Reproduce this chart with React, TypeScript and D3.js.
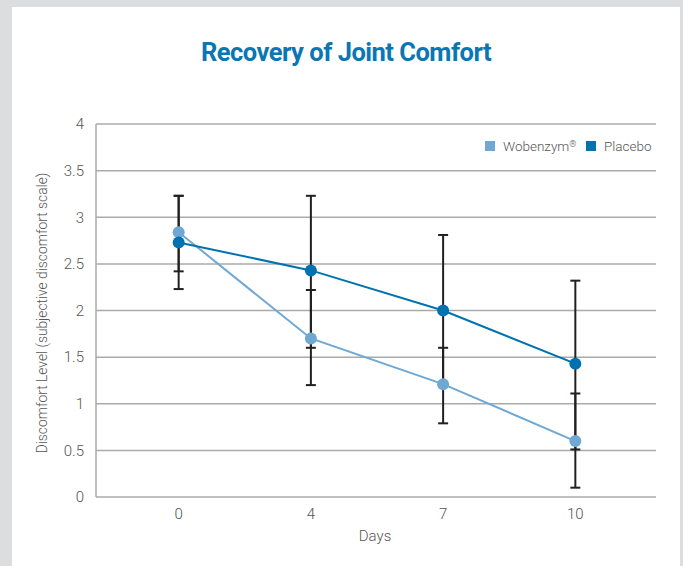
import React from "react";
import * as d3 from "d3";

const days = ["0", "4", "7", "10"];
const yTicks = [0, 0.5, 1, 1.5, 2, 2.5, 3, 3.5, 4];

const wobenzym = [2.84, 1.7, 1.21, 0.6];
const wobLow = [2.42, 1.2, 0.79, 0.1];
const wobHigh = [3.23, 2.22, 1.6, 1.11];

const placebo = [2.73, 2.43, 2.0, 1.43];
const plaLow = [2.23, 1.6, 1.2, 0.51];
const plaHigh = [3.23, 3.23, 2.81, 2.32];

const LIGHT = "#6fa8d3";
const DARK = "#0072b0";
const BAR = "#231f20";
const GRID = "#aaaaaa";
const LABEL = "#555555";
const FONT = "Roboto, 'Liberation Sans', sans-serif";

const App = () => {
    const W = 683, H = 566;
    const left = 96, right = 656, top = 124, bottom = 497;

    const x = d3.scalePoint<string>().domain(days).range([left + 2, right]).padding(0.61);
    const y = d3.scaleLinear().domain([0, 4]).range([bottom, top]);

    const line = d3.line<number>()
        .x((_, i) => x(days[i]) as number)
        .y(d => y(d));

    const series = [
        {name: "Wobenzym", color: LIGHT, values: wobenzym, lo: wobLow, hi: wobHigh},
        {name: "Placebo", color: DARK, values: placebo, lo: plaLow, hi: plaHigh},
    ];

    const cap = 5;

    return (
        <svg width={W} height={H} style={{position: "absolute", left: 0, top: 0}}>
            <rect x={0} y={0} width={W} height={H} fill="#dcdddf"/>
            <rect x={12} y={7} width={668} height={H} fill="#ffffff"/>

            <text x={346} y={61} textAnchor="middle" fill="#0a76b4" fontFamily={FONT}
                  fontWeight={700} fontSize={25.5} letterSpacing={-0.5}>Recovery of Joint Comfort</text>

            {/* grid */}
            {yTicks.map(t => (
                <g key={t}>
                    <line x1={left} x2={right} y1={y(t)} y2={y(t)} stroke={GRID} strokeWidth={1.5}/>
                    <text x={84} y={y(t)} dy="0.35em" textAnchor="end" fill={LABEL} fontFamily={FONT}
                          fontWeight={300} fontSize={15}>{t}</text>
                </g>
            ))}
            <line x1={left} x2={left} y1={top} y2={bottom} stroke={GRID} strokeWidth={1.5}/>

            {days.map(d => (
                <text key={d} x={x(d)} y={514} dy="0.35em" textAnchor="middle" fill={LABEL}
                      fontFamily={FONT} fontWeight={300} fontSize={15}>{d}</text>
            ))}
            <text x={375} y={536} dy="0.35em" textAnchor="middle" fill={LABEL} fontFamily={FONT}
                  fontWeight={300} fontSize={15}>Days</text>
            <text transform={`translate(42,${313}) rotate(-90)`} textAnchor="middle" dy="0.35em"
                  fill={LABEL} fontFamily={FONT} fontWeight={300} fontSize={13.8}>
                Discomfort Level (subjective discomfort scale)
            </text>

            {/* error bars */}
            {series.map(s => days.map((d, i) => {
                const cx = x(d) as number;
                return (
                    <g key={s.name + d} stroke={BAR} strokeWidth={2}>
                        <line x1={cx} x2={cx} y1={y(s.lo[i])} y2={y(s.hi[i])}/>
                        <line x1={cx - cap} x2={cx + cap} y1={y(s.lo[i])} y2={y(s.lo[i])}/>
                        <line x1={cx - cap} x2={cx + cap} y1={y(s.hi[i])} y2={y(s.hi[i])}/>
                    </g>
                );
            }))}

            {/* lines and points */}
            {series.map(s => (
                <g key={s.name}>
                    <path d={line(s.values) as string} fill="none" stroke={s.color} strokeWidth={2}/>
                    {s.values.map((v, i) => (
                        <circle key={i} cx={x(days[i])} cy={y(v)} r={6} fill={s.color}/>
                    ))}
                </g>
            ))}

            {/* legend */}
            <rect x={485} y={141} width={10} height={10} fill={LIGHT}/>
            <text x={503} y={146} dy="0.35em" fill={LABEL} fontFamily={FONT} fontWeight={300}
                  fontSize={13.5}>Wobenzym<tspan fontSize={9} dy={-4}>®</tspan></text>
            <rect x={586} y={141} width={10} height={10} fill={DARK}/>
            <text x={604} y={146} dy="0.35em" fill={LABEL} fontFamily={FONT} fontWeight={300}
                  fontSize={13.5}>Placebo</text>
        </svg>
    );
};

export default App;
